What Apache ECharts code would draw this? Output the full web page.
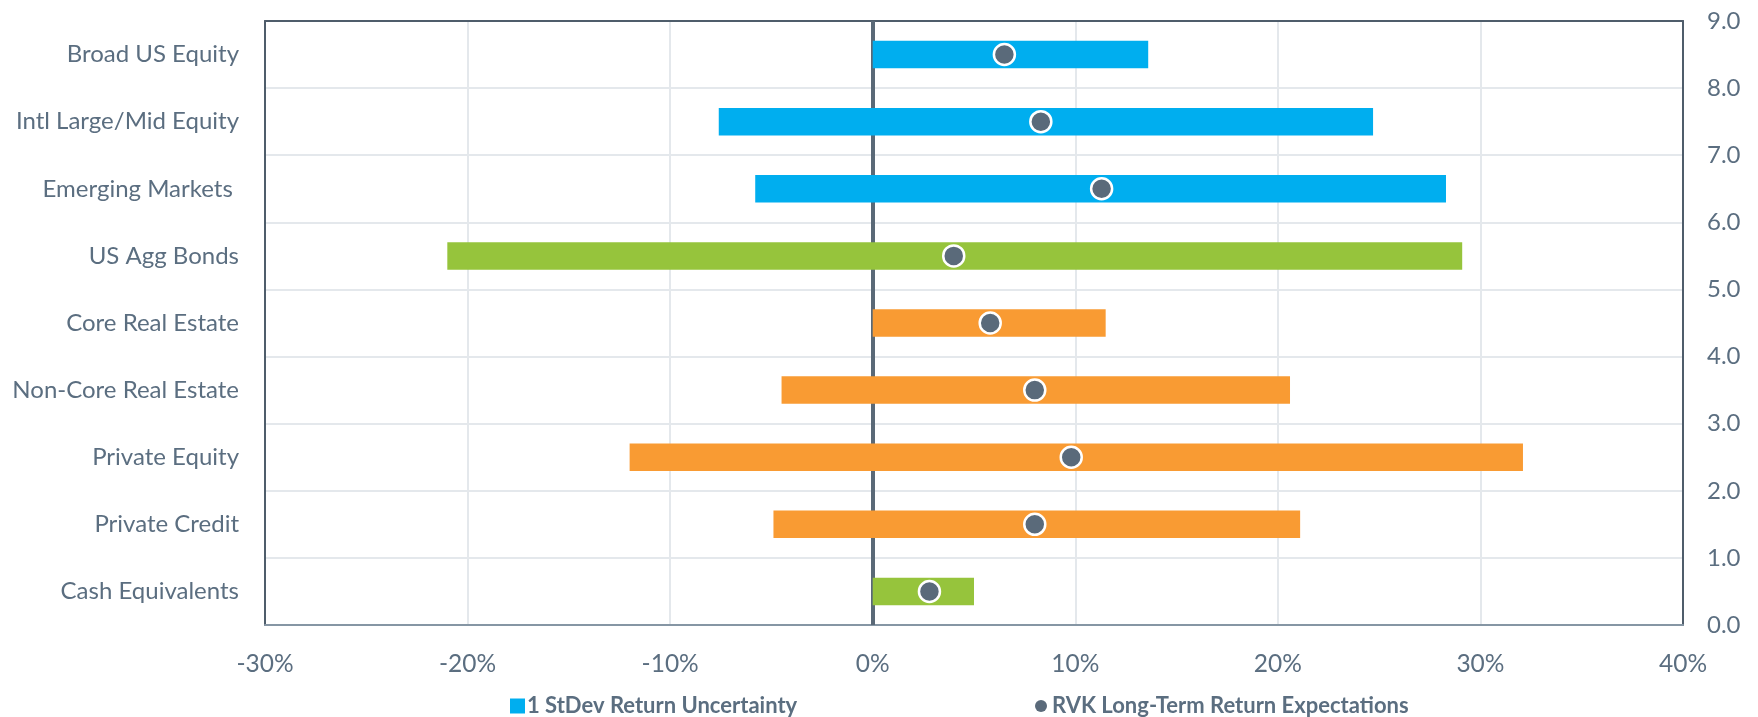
<!DOCTYPE html>
<html>
<head>
<meta charset="utf-8">
<title>Return Expectations and Uncertainty</title>
<script src="https://cdn.jsdelivr.net/npm/echarts@6/dist/echarts.min.js"></script>
<style>
  html, body { margin: 0; padding: 0; background: #ffffff; }
  #chart { width: 1758px; height: 717px; }
</style>
</head>
<body>
<div id="chart"></div>
<script>
// Asset classes, top to bottom
const categories = [
  'Broad US Equity',
  'Intl Large/Mid Equity',
  'Emerging Markets ',
  'US Agg Bonds',
  'Core Real Estate',
  'Non-Core Real Estate',
  'Private Equity',
  'Private Credit',
  'Cash Equivalents'
];
// 1 standard deviation range (%), low and high ends
const rangeLow  = [0, -7.6, -5.8, -21.0, 0, -4.5, -12.0, -4.9, 0];
const rangeHigh = [13.6, 24.7, 28.3, 29.1, 11.5, 20.6, 32.1, 21.1, 5.0];
// Long-term expected return (%)
const expectedReturn = [6.5, 8.3, 11.3, 4.0, 5.8, 8.0, 9.8, 8.0, 2.8];
// Asset group of each class
const assetGroup = ['equity', 'equity', 'equity', 'fixed', 'real', 'real', 'real', 'real', 'fixed'];
// Axis ticks
const xTicks = [-30, -20, -10, 0, 10, 20, 30, 40];
const rightTicks = [0, 1, 2, 3, 4, 5, 6, 7, 8, 9];

const seriesNames = ['1 StDev Return Uncertainty', 'RVK Long-Term Return Expectations'];

const groupColor = { equity: '#00AEEF', fixed: '#96C43C', real: '#F99B33' };
const textColor = '#5B6E80';
const dotColor = '#5A6A7A';
const frameColor = '#4F5D6B';
const gridColor = '#E4E8EC';
const fontFamily = 'Lato, "Open Sans", sans-serif';

const rangeData = categories.map((c, i) => ({
  value: [rangeLow[i], rangeHigh[i], i],
  itemStyle: { color: groupColor[assetGroup[i]] }
}));
const pointData = categories.map((c, i) => [expectedReturn[i], i]);

const chart = echarts.init(document.getElementById('chart'), null, { renderer: 'canvas' });

chart.setOption({
  animation: false,
  backgroundColor: '#ffffff',
  grid: {
    left: 265, right: 75, top: 21, bottom: 92,
    show: false
  },
  legend: [
    {
      left: 505, top: 690,
      itemWidth: 15, itemHeight: 15, itemGap: 10,
      data: [{ name: seriesNames[0], icon: 'rect', itemStyle: { color: '#00AEEF' } }],
      textStyle: { color: textColor, fontFamily: fontFamily, fontSize: 22, fontWeight: 'bold', padding: [0, 0, 0, -3] }
    },
    {
      left: 1030, top: 690,
      itemWidth: 12, itemHeight: 12, itemGap: 10,
      data: [{ name: seriesNames[1], icon: 'circle', itemStyle: { color: dotColor, borderWidth: 0 } }],
      textStyle: { color: textColor, fontFamily: fontFamily, fontSize: 22, fontWeight: 'bold' }
    }
  ],
  xAxis: [
    {
      type: 'value',
      position: 'bottom',
      min: xTicks[0], max: xTicks[xTicks.length - 1], interval: 10,
      axisLine: { show: true, onZero: false, lineStyle: { color: '#8696A4', width: 2 } },
      axisTick: { show: false },
      axisLabel: {
        formatter: '{value}%', color: textColor, fontFamily: fontFamily, fontSize: 24.5, margin: 27
      },
      splitLine: { show: true, lineStyle: { color: gridColor, width: 2 } },
      z: 3
    },
    {
      // top frame edge
      type: 'value',
      position: 'top',
      min: xTicks[0], max: xTicks[xTicks.length - 1], interval: 10,
      axisLine: { show: true, onZero: false, lineStyle: { color: frameColor, width: 2 } },
      axisTick: { show: false },
      axisLabel: { show: false },
      splitLine: { show: false },
      z: 3
    }
  ],
  yAxis: [
    {
      type: 'category',
      data: categories,
      inverse: true,
      position: 'left',
      axisLine: { show: true, onZero: false, lineStyle: { color: frameColor, width: 2 } },
      axisTick: { show: false },
      axisLabel: { color: textColor, fontFamily: fontFamily, fontSize: 24, margin: 26 },
      splitLine: { show: false },
      z: 3
    },
    {
      type: 'value',
      position: 'right',
      min: rightTicks[0], max: rightTicks[rightTicks.length - 1], interval: 1,
      axisLine: { show: true, onZero: false, lineStyle: { color: frameColor, width: 2 } },
      axisTick: { show: false },
      axisLabel: {
        formatter: v => v.toFixed(1), color: textColor, fontFamily: fontFamily, fontSize: 24, margin: 24
      },
      splitLine: { show: true, lineStyle: { color: gridColor, width: 2 } },
      z: 3
    }
  ],
  series: [
    {
      name: seriesNames[0],
      type: 'custom',
      xAxisIndex: 0,
      yAxisIndex: 0,
      z: 5,
      itemStyle: { color: '#00AEEF' },
      encode: { x: [0, 1], y: 2 },
      renderItem: function (params, api) {
        const lo = api.coord([api.value(0), api.value(2)]);
        const hi = api.coord([api.value(1), api.value(2)]);
        const h = api.size([0, 1])[1] * 0.41;
        return {
          type: 'rect',
          shape: { x: lo[0], y: lo[1] - h / 2, width: hi[0] - lo[0], height: h },
          style: { fill: api.visual('color') }
        };
      },
      data: rangeData
    },
    {
      name: seriesNames[1],
      type: 'scatter',
      xAxisIndex: 0,
      yAxisIndex: 0,
      z: 6,
      symbol: 'circle',
      symbolSize: 21,
      itemStyle: { color: dotColor, borderColor: '#ffffff', borderWidth: 2.5, opacity: 1 },
      data: pointData,
      markLine: {
        silent: true,
        symbol: ['none', 'none'],
        label: { show: false },
        lineStyle: { color: '#5A6977', width: 4, type: 'solid' },
        data: [{ xAxis: 0 }]
      }
    }
  ]
});
</script>
</body>
</html>
